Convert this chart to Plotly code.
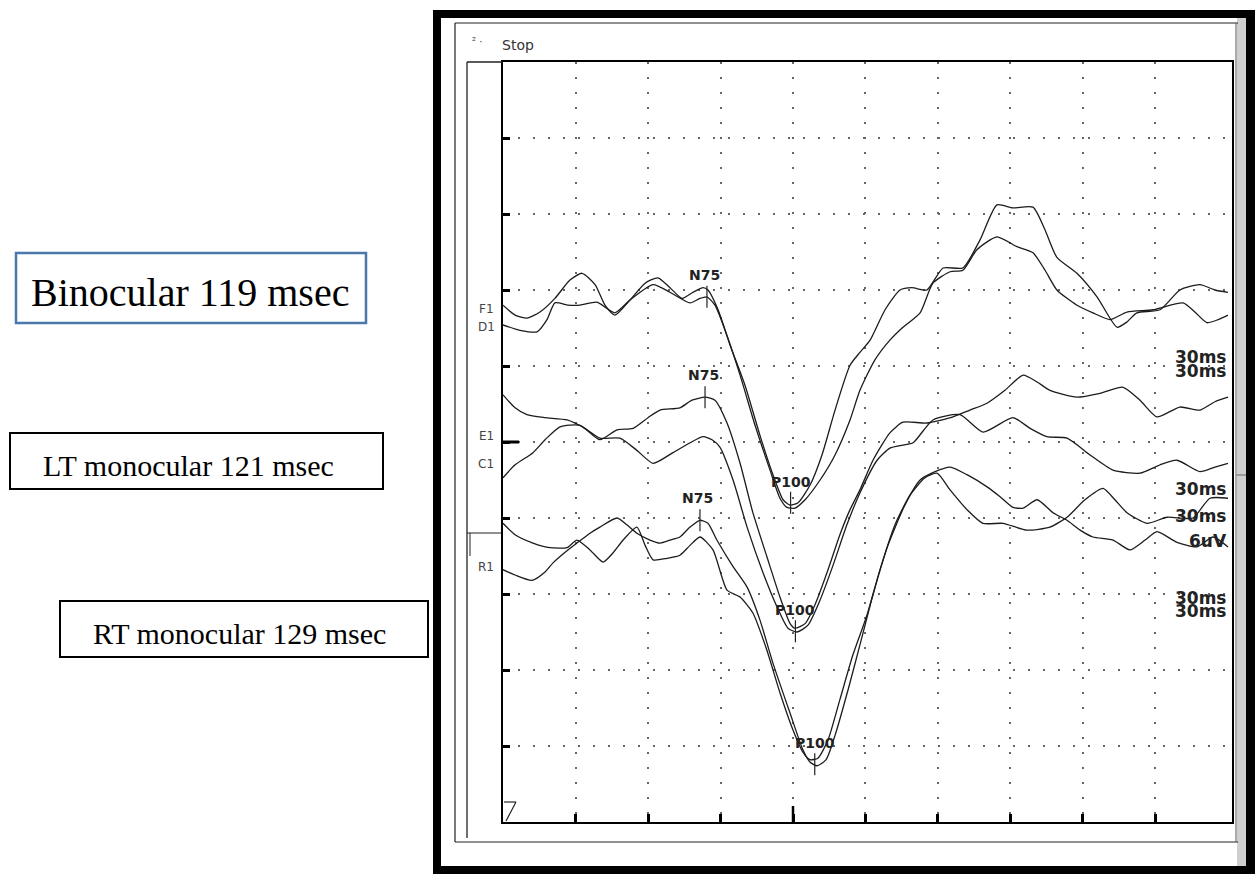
import plotly.graph_objects as go

W, H = 1255, 874

# ---------------- data (time in ms, amplitude in display divisions) ----------------
bin_a_t = [0, 5, 9.9, 15.3, 21.5, 27.7, 32.7, 38.1, 42.2, 46.3, 52.6, 58.8, 64.1, 69.1, 74.1,
           78.6, 82.8, 84.8, 89, 93.9, 100.1, 106.3, 111.7, 115.9, 118.8, 122.1, 127, 132, 137.4,
           143.6, 147.7, 151.9, 158.1, 164.3, 169.2, 175.4, 182.1, 190.3, 197.4, 204.4, 211, 219.3,
           224.3, 229.2, 237.5, 245.8, 254.1, 258.2, 262.3, 271.9, 280.1, 288.4, 294.6, 300]
bin_a_v = [6.80, 6.67, 6.63, 6.71, 6.89, 7.13, 7.22, 7.07, 6.80, 6.67, 6.87, 7.09, 7.16, 7.03, 6.89,
           6.97, 7.03, 7.0, 6.74, 6.28, 5.75, 5.09, 4.57, 4.24, 4.17, 4.20, 4.43, 4.83, 5.42,
           6.01, 6.18, 6.34, 6.74, 7.0, 7.03, 7.0, 7.29, 7.29, 7.66, 8.12, 8.08, 8.09,
           7.79, 7.43, 7.22, 6.91, 6.51, 6.58, 6.70, 6.74, 7.0, 7.07, 7.0, 6.97]

bin_b_t = [0, 7, 14.1, 18.2, 21.5, 26.9, 31.9, 38.9, 46.3, 52.6, 62.1, 69.1, 77.4, 81.5, 84.4,
           87.7, 91.9, 98.1, 104.3, 110.5, 114.6, 117.5, 120.8, 125, 131.2, 137.4, 143.6, 147.7,
           153.9, 160.1, 165.5, 172.6, 177.9, 185, 190.3, 196.1, 204.4, 212.7, 219.3, 224.3,
           229.2, 237.5, 244.1, 251.2, 258.2, 269, 281.4, 286.3, 291.3, 295.9, 300]
bin_b_v = [6.54, 6.47, 6.45, 6.61, 6.83, 6.80, 6.80, 6.84, 6.70, 6.87, 7.07, 6.97, 6.83, 6.89, 6.91,
           6.80, 6.47, 5.88, 5.22, 4.63, 4.26, 4.14, 4.13, 4.24, 4.50, 4.83, 5.29, 5.68,
           6.08, 6.34, 6.51, 6.70, 7.09, 7.24, 7.26, 7.53, 7.70, 7.57, 7.49, 7.26,
           7.0, 6.80, 6.70, 6.61, 6.71, 6.74, 6.83, 6.71, 6.57, 6.61, 6.67]

lt_a_t = [0, 5, 9.9, 17.4, 26.5, 33.9, 40.1, 48.4, 55.4, 62.1, 70.3, 77.4, 82.8, 86.5, 89.8,
          95.2, 101, 107.6, 113.4, 117.9, 121.7, 126.2, 131.2, 136.6, 142.3, 147.7, 154.8, 160.1,
          165.5, 169.7, 177.9, 189.1, 198.6, 211, 218.1, 225.1, 233.4, 242.9, 252.4, 263.6,
          271.9, 278.9, 288.4, 294.6, 300]
lt_a_v = [5.62, 5.45, 5.36, 5.32, 5.29, 5.18, 5.05, 5.05, 4.89, 4.72, 4.86, 4.99, 5.07, 5.03, 4.93,
          4.50, 3.88, 3.28, 2.83, 2.55, 2.50, 2.59, 2.92, 3.38, 3.91, 4.33, 4.76, 4.92,
          4.96, 4.99, 5.29, 5.36, 5.13, 5.32, 5.18, 5.07, 5.05, 4.83, 4.63, 4.59,
          4.70, 4.76, 4.61, 4.67, 4.72]

lt_b_t = [0, 5, 12.4, 17.4, 23.6, 31.9, 40.1, 47.2, 53.8, 60, 65, 73.2, 78.2, 83.6, 87.7,
          92.7, 98.1, 103.4, 109.2, 114.6, 118.8, 120.8, 125, 129.1, 134.5, 139.4, 143.6, 147.7,
          153.1, 160.1, 165.5, 175.4, 186.2, 193.2, 200.3, 207.7, 215.2, 221, 226.3, 237.5,
          247, 256.6, 263.6, 270.6, 280.1, 288.4, 294.6, 300]
lt_b_v = [4.53, 4.70, 4.86, 5.03, 5.20, 5.22, 5.03, 5.16, 5.18, 5.32, 5.42, 5.45, 5.55, 5.59, 5.55,
          5.25, 4.72, 4.07, 3.49, 2.96, 2.61, 2.55, 2.61, 2.86, 3.32, 3.78, 4.11, 4.37,
          4.76, 5.12, 5.26, 5.25, 5.33, 5.42, 5.51, 5.68, 5.88, 5.79, 5.68, 5.59,
          5.64, 5.72, 5.55, 5.33, 5.46, 5.42, 5.53, 5.59]

rt_a_t = [0, 5, 12.4, 19.4, 26.5, 30.6, 36, 41.4, 45.5, 49.7, 55.4, 58.8, 62.1, 67.9, 73.2,
          77.4, 81.5, 86.9, 92.7, 98.1, 103.4, 109.2, 114.6, 120, 124.1, 127, 130.3, 134.5,
          139.4, 144.8, 150.6, 156, 162.2, 168.4, 174.6, 179.6, 185, 192, 198.6, 206.9,
          216.8, 226.3, 233.4, 240.8, 248.3, 253.2, 258.2, 266.5, 274.8, 285.5, 292.5, 300]
rt_a_v = [3.93, 3.78, 3.67, 3.61, 3.61, 3.71, 3.58, 3.42, 3.54, 3.71, 3.88, 3.64, 3.45, 3.47, 3.51,
          3.64, 3.75, 3.58, 3.05, 2.96, 2.75, 2.26, 1.70, 1.21, 0.92, 0.82, 0.84, 1.08,
          1.61, 2.20, 2.72, 3.32, 3.91, 4.30, 4.53, 4.59, 4.37, 4.11, 3.93, 3.93,
          3.84, 3.88, 4.01, 4.24, 4.39, 4.24, 4.07, 3.93, 4.01, 4.0, 4.26, 4.26]

rt_b_t = [0, 5, 12, 17.4, 20.7, 25.7, 30.6, 36, 40.1, 47.2, 51.3, 55.4, 60.8, 65, 69.1,
          73.2, 77.4, 81.5, 84.8, 88.5, 95.2, 101, 106.3, 111.7, 118.8, 124.1, 127, 129.9,
          133.7, 137.4, 142.8, 147.7, 153.1, 159.3, 166.3, 172.6, 178.8, 185, 192, 200.3,
          205.7, 211, 215.2, 221, 227.6, 233.4, 238.8, 244.1, 252.4, 259.4, 265.7, 270.6,
          278.9, 287.2, 293.8, 300]
rt_b_v = [3.32, 3.25, 3.18, 3.29, 3.41, 3.55, 3.67, 3.80, 3.88, 4.0, 3.91, 3.80, 3.71, 3.67, 3.71,
          3.75, 3.88, 3.97, 3.93, 3.71, 3.36, 3.09, 2.66, 2.09, 1.43, 0.95, 0.79, 0.74,
          0.82, 1.14, 1.74, 2.33, 2.99, 3.64, 4.17, 4.50, 4.61, 4.67, 4.57, 4.41,
          4.28, 4.14, 4.13, 4.24, 4.07, 3.97, 3.84, 3.75, 3.71, 3.58, 3.71, 3.82,
          3.68, 3.62, 3.75, 3.62]

# peak markers
n75_t = [84.4, 83.6, 81.5]
n75_v = [6.91, 5.59, 3.97]
p100_t = [119, 121, 129]
p100_v = [4.20, 2.51, 0.76]

# axis ticks
x_ticks = [30, 60, 90, 120, 150, 180, 210, 240, 270]
y_ticks = [1, 2, 3, 4, 5, 6, 7, 8, 9]

channel_labels = ["F1", "D1", "E1", "C1", "R1"]
right_labels = ["30ms", "30ms", "30ms", "30ms", "6uV", "30ms", "30ms"]
box_labels = ["Binocular 119 msec", "LT monocular 121 msec", "RT monocular 129 msec"]

series = [(bin_a_t, bin_a_v), (bin_b_t, bin_b_v), (lt_a_t, lt_a_v),
          (lt_b_t, lt_b_v), (rt_a_t, rt_a_v), (rt_b_t, rt_b_v)]
for t, v in series:
    assert len(t) == len(v)

# ---------------- helpers for layout placement (pixels -> paper) ----------------
def PX(x):
    return x / W

def PY(y):
    return 1 - y / H

fig = go.Figure()
for t, v in series:
    fig.add_trace(go.Scatter(x=t, y=v, mode="lines",
                             line=dict(color="#1c1c1c", width=1.3, shape="spline", smoothing=0.6),
                             hoverinfo="skip", showlegend=False))

shapes = []
# outer black frame + white panel
shapes.append(dict(type="rect", xref="paper", yref="paper", x0=PX(433), x1=PX(1255), y0=PY(874), y1=PY(10),
                   fillcolor="black", line=dict(width=0), layer="below"))
shapes.append(dict(type="rect", xref="paper", yref="paper", x0=PX(441), x1=PX(1246), y0=PY(866), y1=PY(18),
                   fillcolor="white", line=dict(width=0), layer="below"))
shapes.append(dict(type="rect", xref="paper", yref="paper", x0=PX(1237), x1=PX(1246), y0=PY(866), y1=PY(18),
                   fillcolor="#cfcfcf", line=dict(width=0), layer="below"))

def line(x0, y0, x1, y1, w=1.2, c="#222"):
    shapes.append(dict(type="line", xref="paper", yref="paper", x0=PX(x0), y0=PY(y0), x1=PX(x1), y1=PY(y1),
                       line=dict(color=c, width=w)))

# thin panel borders
line(455, 23, 1238, 23, 1.2)
line(455, 23, 455, 842, 1.2)
line(455, 842, 1238, 842, 1.2)
line(1236, 23, 1236, 842, 1.0, "#555")
# label column
line(467, 62, 503, 62, 1.5)
line(467, 62, 467, 838, 1.3)
line(467, 533, 501, 533, 1.2)
line(470, 533, 470, 556, 1.0)
# bottom-left marker
line(504, 802, 516, 802, 1.2)
line(516, 802, 506, 821, 1.2)
# long ticks at mid positions
shapes.append(dict(type="line", xref="x", yref="paper", x0=120, x1=120, y0=PY(822), y1=PY(806),
                   line=dict(color="black", width=2.5)))
shapes.append(dict(type="line", xref="paper", yref="y", x0=PX(503), x1=PX(519), y0=5, y1=5,
                   line=dict(color="black", width=3)))
# small gray tick on the right strip
line(1236, 475, 1246, 475, 1.5, "#888")

# peak markers (vertical strokes)
for t, v in zip(n75_t + p100_t, n75_v + p100_v):
    shapes.append(dict(type="line", xref="x", yref="y", x0=t, x1=t, y0=v - 0.145, y1=v + 0.145,
                       line=dict(color="#222", width=1.2)))

# text boxes on the left
shapes.append(dict(type="rect", xref="paper", yref="paper", x0=PX(16), x1=PX(366), y0=PY(323), y1=PY(253),
                   line=dict(color="#4a78ab", width=2.5)))
shapes.append(dict(type="rect", xref="paper", yref="paper", x0=PX(10), x1=PX(383), y0=PY(489), y1=PY(433),
                   line=dict(color="black", width=2)))
shapes.append(dict(type="rect", xref="paper", yref="paper", x0=PX(60), x1=PX(428), y0=PY(657), y1=PY(601),
                   line=dict(color="black", width=2)))

ann = []
serif = "Liberation Serif, Times New Roman, serif"
ann.append(dict(text=box_labels[0], x=PX(29), y=PY(292), xref="paper", yref="paper", xanchor="left",
                yanchor="middle", showarrow=False, font=dict(family=serif, size=40, color="black")))
ann.append(dict(text=box_labels[1], x=PX(41), y=PY(466), xref="paper", yref="paper", xanchor="left",
                yanchor="middle", showarrow=False, font=dict(family=serif, size=30, color="black")))
ann.append(dict(text=box_labels[2], x=PX(91), y=PY(633), xref="paper", yref="paper", xanchor="left",
                yanchor="middle", showarrow=False, font=dict(family=serif, size=30, color="black")))

sans = "DejaVu Sans, Arial, sans-serif"
ann.append(dict(text="Stop", x=PX(500), y=PY(45), xref="paper", yref="paper", xanchor="left",
                yanchor="middle", showarrow=False, font=dict(family=sans, size=14, color="#333")))
ann.append(dict(text="² ·", x=PX(470), y=PY(41), xref="paper", yref="paper", xanchor="left",
                yanchor="middle", showarrow=False, font=dict(family=sans, size=10, color="#444")))

for lab, yy in zip(channel_labels, [309, 327, 436, 464, 567]):
    ann.append(dict(text=lab, x=PX(486), y=PY(yy), xref="paper", yref="paper", xanchor="center",
                    yanchor="middle", showarrow=False, font=dict(family=sans, size=12, color="#444")))

for lab, yy in zip(right_labels, [357, 371, 489, 516, 541, 598, 611]):
    ann.append(dict(text="<b>%s</b>" % lab, x=PX(1229), y=PY(yy), xref="paper", yref="paper",
                    xanchor="right", yanchor="middle", showarrow=False,
                    font=dict(family=sans, size=17, color="#222")))

for t, v in zip(n75_t, n75_v):
    ann.append(dict(text="<b>N75</b>", x=t, y=v, xref="x", yref="y", xanchor="center", yanchor="middle",
                    yshift=22, xshift=-2, showarrow=False, font=dict(family=sans, size=14, color="#222")))
for t, v in zip(p100_t, p100_v):
    ann.append(dict(text="<b>P100</b>", x=t, y=v, xref="x", yref="y", xanchor="center", yanchor="middle",
                    yshift=21, showarrow=False, font=dict(family=sans, size=14, color="#222")))

fig.update_layout(
    width=W, height=H, autosize=False,
    margin=dict(l=0, r=0, t=0, b=0),
    paper_bgcolor="white", plot_bgcolor="rgba(0,0,0,0)",
    shapes=shapes, annotations=ann, showlegend=False,
    xaxis=dict(domain=[PX(503), PX(1232)], range=[0, 301.66], tickvals=x_ticks,
               showticklabels=False, ticks="inside", ticklen=8, tickwidth=2.5, tickcolor="black",
               showgrid=True, gridcolor="#666", gridwidth=1.6, griddash="2px,13px",
               zeroline=False, showline=True, linecolor="black", linewidth=1.5, mirror=True,
               fixedrange=True),
    yaxis=dict(domain=[PY(822), PY(62)], range=[0, 10], tickvals=y_ticks,
               showticklabels=False, ticks="inside", ticklen=7, tickwidth=3, tickcolor="black",
               showgrid=True, gridcolor="#666", gridwidth=1.6, griddash="2px,13px",
               zeroline=False, showline=True, linecolor="black", linewidth=1.5, mirror=True,
               fixedrange=True),
)

fig.write_html("out.html", config={"displayModeBar": False},
               post_script="document.body.style.margin='0px';document.body.style.overflow='hidden';")
